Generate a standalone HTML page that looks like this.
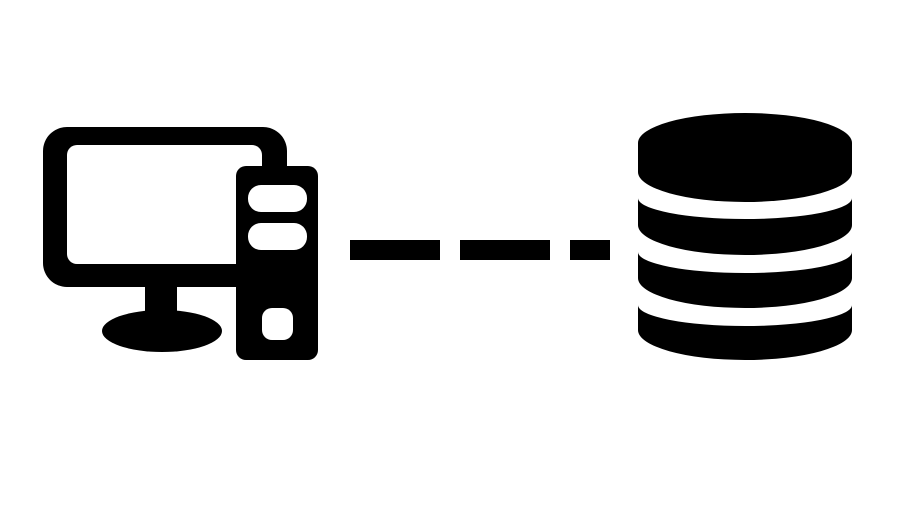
<!DOCTYPE html>
<html><head><meta charset="utf-8"><style>html,body{margin:0;padding:0;background:#fff;}svg{display:block}</style></head>
<body>
<svg width="920" height="512" viewBox="0 0 920 512" xmlns="http://www.w3.org/2000/svg">
<rect width="920" height="512" fill="#fff"/>
<!-- monitor -->
<rect x="43" y="127" width="244" height="160" rx="24" fill="#000"/>
<rect x="67" y="145" width="195" height="119" rx="10" fill="#fff"/>
<rect x="145" y="280" width="32" height="40" fill="#000"/>
<ellipse cx="162" cy="331" rx="60" ry="21" fill="#000"/>
<!-- tower -->
<rect x="236" y="166" width="82" height="194" rx="10" fill="#000"/>
<rect x="248" y="185" width="59" height="27" rx="13" fill="#fff"/>
<rect x="248" y="223" width="59" height="27" rx="13" fill="#fff"/>
<rect x="262" y="308" width="31" height="32" rx="10" fill="#fff"/>
<!-- dashes -->
<rect x="350" y="240" width="90" height="20" fill="#000"/>
<rect x="460" y="240" width="90" height="20" fill="#000"/>
<rect x="570" y="240" width="40" height="20" fill="#000"/>
<!-- database -->
<path d="M638,143 A107,30 0 0 1 852,143 L852,172 A107,30 0 0 1 638,172 Z" fill="#000"/>
<path d="M638,198 A107,21 0 0 0 852,198 L852,225 A107,30 0 0 1 638,225 Z" fill="#000"/>
<path d="M638,252 A107,21 0 0 0 852,252 L852,278 A107,30 0 0 1 638,278 Z" fill="#000"/>
<path d="M638,305 A107,21 0 0 0 852,305 L852,330 A107,30 0 0 1 638,330 Z" fill="#000"/>
</svg>
</body></html>
